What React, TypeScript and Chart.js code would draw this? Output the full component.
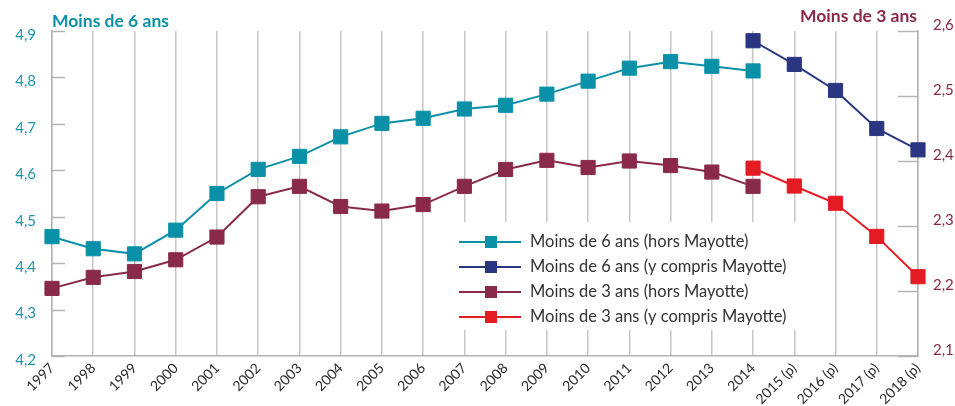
import React, { useEffect, useRef } from "react";
import { Chart, registerables } from "chart.js";

Chart.register(...registerables);

const years = [
  "1997", "1998", "1999", "2000", "2001", "2002", "2003", "2004", "2005", "2006", "2007",
  "2008", "2009", "2010", "2011", "2012", "2013", "2014", "2015 (p)", "2016 (p)", "2017 (p)", "2018 (p)",
];

const moins6Hors = [
  4.457, 4.431, 4.42, 4.471, 4.55, 4.602, 4.63, 4.672, 4.701, 4.712, 4.732,
  4.74, 4.764, 4.792, 4.82, 4.834, 4.824, 4.814, null, null, null, null,
];
const moins6Avec = [
  null, null, null, null, null, null, null, null, null, null, null,
  null, null, null, null, null, null, 4.879, 4.828, 4.772, 4.69, 4.644,
];
const moins3Hors = [
  2.204, 2.221, 2.23, 2.248, 2.283, 2.345, 2.361, 2.33, 2.323, 2.333, 2.361,
  2.387, 2.401, 2.39, 2.4, 2.393, 2.383, 2.361, null, null, null, null,
];
const moins3Avec = [
  null, null, null, null, null, null, null, null, null, null, null,
  null, null, null, null, null, null, 2.389, 2.3615, 2.335, 2.284, 2.222,
];

const leftTicks = [4.2, 4.3, 4.4, 4.5, 4.6, 4.7, 4.8, 4.9];
const rightTicks = [2.1, 2.2, 2.3, 2.4, 2.5, 2.6];

const leftTitle = "Moins de 6 ans";
const rightTitle = "Moins de 3 ans";
const seriesLabels = [
  "Moins de 6 ans (hors Mayotte)",
  "Moins de 6 ans (y compris Mayotte)",
  "Moins de 3 ans (hors Mayotte)",
  "Moins de 3 ans (y compris Mayotte)",
];

const TEAL = "#0b91a7";
const NAVY = "#2a3681";
const PURPLE = "#8a2a4b";
const RED = "#e31b23";
const COLORS = [TEAL, NAVY, PURPLE, RED];
const GRID = "#c6c6c6";
const AXIS = "#b4b4b4";
const FONT = "Lato, 'Open Sans', sans-serif";

const fmt = (v: number) => v.toFixed(1).replace(".", ",");

const decorPlugin = {
  id: "decor",
  afterDraw(chart: any) {
    const ctx = chart.ctx;
    const { left, right } = chart.chartArea;
    const yL = chart.scales.y;
    const yR = chart.scales.y2;
    ctx.save();
    ctx.strokeStyle = AXIS;
    ctx.lineWidth = 1.5;
    leftTicks.forEach((v) => {
      const py = Math.round(yL.getPixelForValue(v)) + 0.5;
      ctx.beginPath();
      ctx.moveTo(left, py);
      ctx.lineTo(left + 13, py);
      ctx.stroke();
    });
    rightTicks.forEach((v) => {
      const py = Math.round(yR.getPixelForValue(v)) + 0.5;
      ctx.beginPath();
      ctx.moveTo(right - 20, py);
      ctx.lineTo(right, py);
      ctx.stroke();
    });

    ctx.font = `bold 17.5px ${FONT}`;
    ctx.textBaseline = "alphabetic";
    ctx.fillStyle = TEAL;
    ctx.textAlign = "left";
    ctx.fillText(leftTitle, left, 27);
    ctx.fillStyle = PURPLE;
    ctx.textAlign = "right";
    ctx.fillText(rightTitle, right - 1, 22);

    const bx = 440, by = 222, bw = 362, bh = 108;
    ctx.fillStyle = "#ffffff";
    ctx.fillRect(bx, by, bw, bh);
    const rows = [242, 267, 292, 317];
    ctx.font = `16.5px ${FONT}`;
    ctx.textAlign = "left";
    ctx.textBaseline = "middle";
    seriesLabels.forEach((lab, i) => {
      const ry = rows[i];
      ctx.strokeStyle = COLORS[i];
      ctx.lineWidth = 2;
      ctx.beginPath();
      ctx.moveTo(459, ry);
      ctx.lineTo(521, ry);
      ctx.stroke();
      ctx.fillStyle = COLORS[i];
      ctx.fillRect(491 - 6, ry - 6, 12, 12);
      ctx.fillStyle = "#333333";
      ctx.fillText(lab, 530, ry);
    });
    ctx.restore();
  },
};

export default function App() {
  const ref = useRef<HTMLCanvasElement>(null);

  useEffect(() => {
    if (!ref.current) return;
    const mk = (label: string, data: any[], color: string, axis: string) => ({
      label,
      data,
      yAxisID: axis,
      borderColor: color,
      backgroundColor: color,
      borderWidth: 2,
      pointStyle: "rect",
      pointRadius: 10,
      pointBorderWidth: 1,
      pointBorderColor: color,
      pointBackgroundColor: color,
      spanGaps: false,
      tension: 0,
    });
    const chart = new Chart(ref.current, {
      type: "line",
      data: {
        labels: years,
        datasets: [
          mk(seriesLabels[0], moins6Hors, TEAL, "y"),
          mk(seriesLabels[1], moins6Avec, NAVY, "y"),
          mk(seriesLabels[2], moins3Hors, PURPLE, "y2"),
          mk(seriesLabels[3], moins3Avec, RED, "y2"),
        ],
      },
      options: {
        animation: false,
        responsive: false,
        layout: { padding: { top: 31, left: 0, right: 0, bottom: 0 } },
        plugins: {
          legend: { display: false },
          tooltip: { enabled: false },
          title: { display: false },
        },
        scales: {
          x: {
            offset: false,
            grid: { display: true, color: GRID, lineWidth: 1.5, drawTicks: false },
            border: { display: true, color: AXIS, width: 1.5 },
            ticks: {
              autoSkip: false,
              maxRotation: 45,
              minRotation: 45,
              padding: 4,
              color: "#2b2b2b",
              font: { family: FONT, size: 14 },
            },
            afterFit: (s: any) => {
              s.height = 50;
              s.paddingLeft = 0;
              s.paddingRight = 0;
            },
          },
          y: {
            position: "left",
            min: 4.2,
            max: 4.9,
            grid: { display: false, drawTicks: false },
            border: { display: true, color: AXIS, width: 1.5 },
            afterBuildTicks: (axis: any) => {
              axis.ticks = leftTicks.map((v) => ({ value: v }));
            },
            ticks: {
              padding: 16,
              labelOffset: 4,
              color: "#1a97aa",
              font: { family: FONT, size: 15 },
              callback: (v: any) => fmt(Number(v)),
            },
            afterFit: (s: any) => {
              s.width = 52;
              s.paddingTop = 0;
              s.paddingBottom = 0;
            },
          },
          y2: {
            position: "right",
            min: 2.1,
            max: 2.6,
            grid: { display: false, drawTicks: false },
            border: { display: true, color: AXIS, width: 1.5 },
            afterBuildTicks: (axis: any) => {
              axis.ticks = rightTicks.map((v) => ({ value: v }));
            },
            ticks: {
              padding: 15,
              labelOffset: -6,
              color: PURPLE,
              font: { family: FONT, size: 15 },
              callback: (v: any) => fmt(Number(v)),
            },
            afterFit: (s: any) => {
              s.width = 37;
              s.paddingTop = 0;
              s.paddingBottom = 0;
            },
          },
        },
      },
      plugins: [decorPlugin],
    } as any);
    return () => chart.destroy();
  }, []);

  return (
    <div style={{ position: "absolute", left: 0, top: 0, width: 955, height: 406, background: "#fff" }}>
      <canvas ref={ref} width={955} height={406} style={{ display: "block" }} />
    </div>
  );
}
